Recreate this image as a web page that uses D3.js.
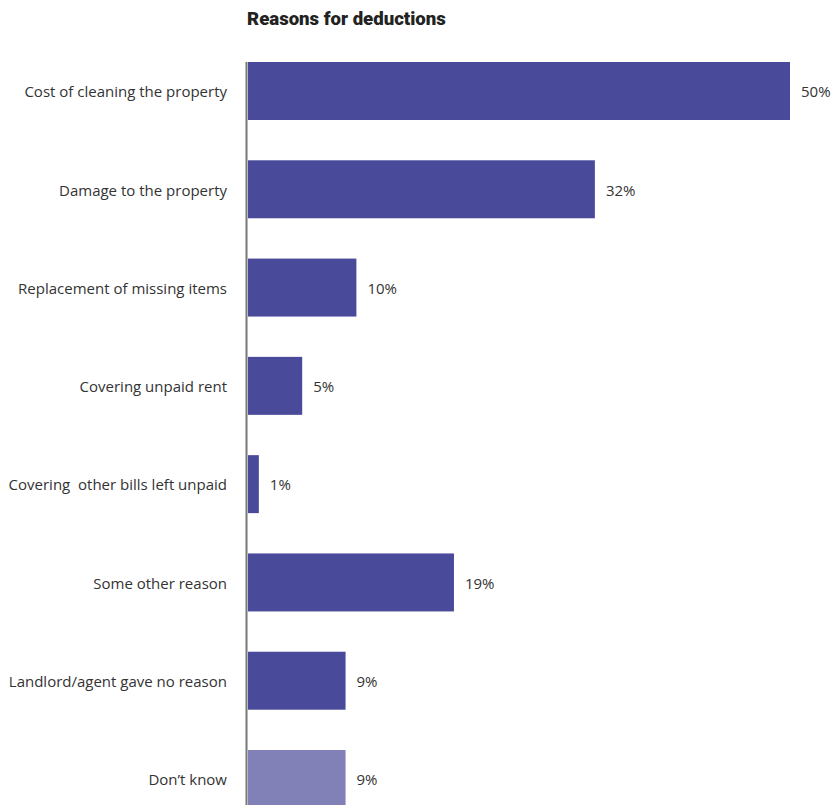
<!DOCTYPE html>
<html>
<head>
<meta charset="utf-8">
<script src="https://cdn.jsdelivr.net/npm/d3@7"></script>
<style>
  body { margin: 0; background: #fff; }
  svg { display: block; }
</style>
</head>
<body>
<div id="chart"></div>
<script>
const reasons = [
  'Cost of cleaning the property',
  'Damage to the property',
  'Replacement of missing items',
  'Covering unpaid rent',
  'Covering  other bills left unpaid',
  'Some other reason',
  'Landlord/agent gave no reason',
  'Don\u2019t know'
];
const shares = [50, 32, 10, 5, 1, 19, 9, 9];
const dontKnow = ['Don\u2019t know'];

const width = 834, height = 805;
const rows = reasons.map((r, i) => ({ reason: r, value: shares[i] }));

const svg = d3.select('#chart').append('svg')
    .attr('width', width)
    .attr('height', height)
    .style('font-family', '"Open Sans", "Noto Sans", sans-serif');

const x = d3.scaleLinear().domain([0, 50]).range([248, 790]);
const y = d3.scaleBand().domain(reasons).range([62, 808]).paddingInner(0.41).paddingOuter(0);

svg.append('text')
    .attr('x', 247)
    .attr('y', 25)
    .attr('font-family', 'Roboto, sans-serif')
    .attr('font-weight', 900)
    .attr('font-size', 18.6)
    .attr('fill', '#222')
    .text('Reasons for deductions');

svg.append('g')
  .selectAll('rect')
  .data(rows)
  .join('rect')
    .attr('x', x(0))
    .attr('y', d => y(d.reason))
    .attr('width', d => x(d.value) - x(0))
    .attr('height', y.bandwidth())
    .attr('fill', d => dontKnow.includes(d.reason) ? '#8180b7' : '#4a4a9a');

// category axis line
svg.append('line')
    .attr('x1', 246.5).attr('x2', 246.5)
    .attr('y1', 62).attr('y2', height)
    .attr('stroke', '#777')
    .attr('stroke-width', 2);

svg.append('g')
  .selectAll('text')
  .data(rows)
  .join('text')
    .attr('x', 227)
    .attr('y', d => y(d.reason) + y.bandwidth() / 2 + 1)
    .attr('dy', '0.35em')
    .attr('text-anchor', 'end')
    .attr('font-size', 15)
    .attr('fill', '#333')
    .style('white-space', 'pre')
    .text(d => d.reason);

svg.append('g')
  .selectAll('text')
  .data(rows)
  .join('text')
    .attr('x', d => x(d.value) + 11)
    .attr('y', d => y(d.reason) + y.bandwidth() / 2 + 1)
    .attr('dy', '0.35em')
    .attr('font-size', 15)
    .attr('fill', '#333')
    .text(d => d.value + '%');
</script>
</body>
</html>
